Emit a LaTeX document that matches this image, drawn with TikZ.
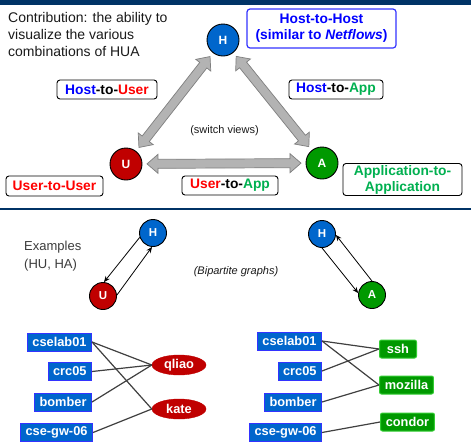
\documentclass[tikz,border=0pt]{standalone}
\usepackage{fontspec}
\setmainfont{Liberation Sans}
\usetikzlibrary{calc,shapes.geometric,arrows.meta}
\definecolor{navy}{HTML}{003366}
\definecolor{hblue}{HTML}{0066CC}
\definecolor{bborder}{HTML}{3333FF}
\definecolor{ured}{HTML}{C00000}
\definecolor{agreen}{HTML}{009900}
\definecolor{gborder}{HTML}{33CC33}
\definecolor{tblue}{HTML}{0000FF}
\definecolor{tred}{HTML}{FF0000}
\definecolor{tgreen}{HTML}{00B050}
\definecolor{afill}{HTML}{B3B3B3}
\definecolor{aborder}{HTML}{7F7F7F}
\definecolor{edgecol}{HTML}{404040}
\definecolor{plain}{HTML}{1A1A1A}
\newcommand\myfs[2]{\fontsize{#1}{#2}\selectfont}
\newcommand\dblarrow[2]{%
\draw[bigarrow] ($(#1.center)!21pt!(#2.center)$)
 -- ($(#1.center)!32pt!(#2.center)!9.5pt!90:(#2.center)$)
 -- ($(#1.center)!32pt!(#2.center)!4.5pt!90:(#2.center)$)
 -- ($(#2.center)!32pt!(#1.center)!4.5pt!-90:(#1.center)$)
 -- ($(#2.center)!32pt!(#1.center)!9.5pt!-90:(#1.center)$)
 -- ($(#2.center)!21pt!(#1.center)$)
 -- ($(#2.center)!32pt!(#1.center)!9.5pt!90:(#1.center)$)
 -- ($(#2.center)!32pt!(#1.center)!4.5pt!90:(#1.center)$)
 -- ($(#1.center)!32pt!(#2.center)!4.5pt!-90:(#2.center)$)
 -- ($(#1.center)!32pt!(#2.center)!9.5pt!-90:(#2.center)$)
 -- cycle;}
\begin{document}
\begin{tikzpicture}[x=1pt,y=-1pt,
  bigarrow/.style={draw=aborder,fill=afill,line width=0.7pt,line join=miter},
  bigcirc/.style={circle,draw=black,line width=0.9pt,minimum size=32pt,inner sep=0pt,text=white,font=\bfseries\myfs{12}{14}},
  smallcirc/.style={circle,draw=black,line width=0.9pt,minimum size=27pt,inner sep=0pt,text=white,font=\bfseries\myfs{11.5}{13}},
  lbl/.style={draw=black,fill=white,rounded corners=3pt,line width=0.9pt,inner sep=0pt,font=\bfseries\myfs{13.8}{16},align=center},
  plaintext/.style={inner sep=0pt,text=plain},
  hostbox/.style={rectangle,fill=hblue,draw=bborder,line width=1pt,text=white,font=\bfseries\myfs{12.8}{14},minimum height=18pt,inner xsep=5pt,inner ysep=0pt,anchor=east},
  userell/.style={ellipse,fill=ured,draw=ured,text=white,font=\bfseries\myfs{12.8}{14},minimum width=54pt,minimum height=20pt,inner sep=0pt},
  appbox/.style={rectangle,rounded corners=2pt,fill=agreen,draw=gborder,line width=1pt,text=white,font=\bfseries\myfs{12.8}{14},minimum height=18pt,inner xsep=5.3pt,inner ysep=0pt,anchor=west},
  bip/.style={draw=edgecol,line width=1.2pt},
  thinarr/.style={draw=black,line width=0.8pt,-{Stealth[length=6pt,width=5pt]}}]
\fill[white] (0,0) rectangle (471,445);
\useasboundingbox (0,0) rectangle (471,445);
% top bar and separator
\fill[navy] (0,0) rectangle (471,5);
\draw[navy,line width=2pt] (0,209) -- (471,209);
% intro text
\node[plaintext,anchor=base west,font=\myfs{14}{17}] (t1) at (8,22) {Contribution: the ability to};
\node[plaintext,anchor=base west,font=\myfs{14}{17}] (t2) at (8,39) {visualize the various};
\node[plaintext,anchor=base west,font=\myfs{14}{17}] (t3) at (8,56) {combinations of HUA};
% big circles
\node[bigcirc,fill=hblue] (H) at (223,40) {H};
\node[bigcirc,fill=ured] (U) at (126,164) {U};
\node[bigcirc,fill=agreen] (A) at (322,163) {A};
\dblarrow{U}{H}
\dblarrow{A}{H}
\dblarrow{U}{A}
% labels
\node[lbl,draw=bborder,line width=1.2pt,text=tblue,minimum width=149pt,minimum height=39pt] (hh) at (321.5,28.5) {Host-to-Host\\(similar to \textit{Netflows})};
\node[lbl,minimum width=100pt,minimum height=19pt] (hu) at (107,89.5) {{\color{tblue}Host}-to-{\color{tred}User}};
\node[lbl,minimum width=94pt,minimum height=19pt] (ha) at (336,89.5) {{\color{tblue}Host}-to-{\color{tgreen}App}};
\node[lbl,minimum width=97pt,minimum height=20pt,text=tred] (uu) at (54.5,186) {User-to-User};
\node[lbl,minimum width=96pt,minimum height=19pt] (ua) at (230,185.5) {{\color{tred}User}-to-{\color{tgreen}App}};
\node[lbl,minimum width=119pt,minimum height=32pt,text=tgreen] (aa) at (402.5,179.5) {Application-to-\\Application};
\node[plaintext,font=\myfs{11}{13}] (sv) at (224.5,131) {(switch views)};
% examples
\node[plaintext,anchor=base west,font=\myfs{13}{15},text=plain!85] (ex1) at (24,250) {Examples};
\node[plaintext,anchor=base west,font=\myfs{13}{15},text=plain!85] (ex2) at (24,268) {(HU, HA)};
\node[plaintext,font=\itshape\myfs{11}{13}] (bg) at (236,272) {(Bipartite graphs)};
\node[smallcirc,fill=hblue] (H1) at (153,233) {H};
\node[smallcirc,fill=ured] (U1) at (103,296) {U};
\node[smallcirc,fill=hblue] (H2) at (322,234) {H};
\node[smallcirc,fill=agreen] (A2) at (372,295) {A};
\draw[thinarr] (H1.198) -- (U1.86);
\draw[thinarr] (U1.4) -- (H1.266);
\draw[thinarr] (H2.270) -- (A2.172);
\draw[thinarr] (A2.90) -- (H2.356);
% left bipartite
\node[hostbox] (l1) at (92,342) {cselab01};
\node[hostbox] (l2) at (92,371.5) {crc05};
\node[hostbox] (l3) at (92,402) {bomber};
\node[hostbox] (l4) at (93,432.5) {cse-gw-06};
\node[userell] (qliao) at (179,365) {qliao};
\node[userell] (kate) at (179,409) {kate};
\draw[bip] (l1.east) -- (qliao.west);
\draw[bip] (l1.east) -- (kate.west);
\draw[bip] (l2.east) -- (qliao.west);
\draw[bip] (l3.east) -- (qliao.west);
\draw[bip] (l4.east) -- (kate.west);
% right bipartite
\node[hostbox] (r1) at (322,341) {cselab01};
\node[hostbox] (r2) at (322,371) {crc05};
\node[hostbox] (r3) at (322,402) {bomber};
\node[hostbox] (r4) at (322,432.5) {cse-gw-06};
\node[appbox,minimum width=37pt] (ssh) at (379,349) {ssh};
\node[appbox] (moz) at (379,385) {mozilla};
\node[appbox] (con) at (380,422) {condor};
\draw[bip] (r1.east) -- (ssh.west);
\draw[bip] (r1.east) -- (moz.west);
\draw[bip] (r2.east) -- (ssh.west);
\draw[bip] (r3.east) -- (moz.west);
\draw[bip] (r4.east) -- (con.west);
\end{tikzpicture}
\end{document}
